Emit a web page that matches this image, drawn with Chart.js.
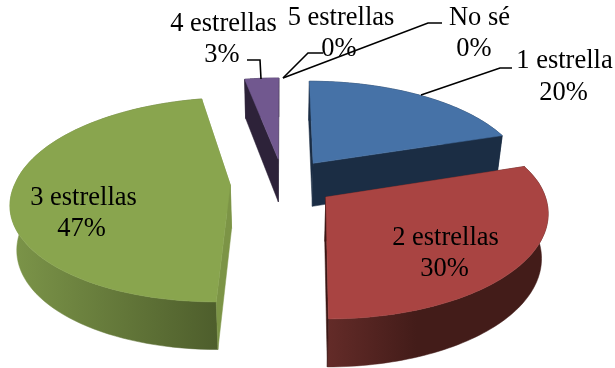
<!DOCTYPE html>
<html><head><meta charset="utf-8">
<style>html,body{margin:0;padding:0;background:#fff}canvas{display:block}</style>
<script src="https://cdn.jsdelivr.net/npm/chart.js@4/dist/chart.umd.min.js"></script>
</head><body>
<canvas id="c" width="615" height="368" style="width:615px;height:368px"></canvas>
<script>
const categories = ["1 estrella","2 estrellas","3 estrellas","4 estrellas","5 estrellas","No sé"];
const percentages = [20,30,47,3,0,0];
const topColors = ["#4672A7","#A94442","#89A54E","#71588F","#4BACC6","#F79646"];
const sideColors = [["#1B2D44","#1B2D44"],["#632B28","#431C19"],["#7C9549","#4E5E2C"],["#2D2239","#2D2239"],["#000","#000"],["#000","#000"]];
const radialColors = ["#1B2D44","#3A1614","#7C9446","#2D2239","#000","#000"];
const paintOrder = [3,0,2,1];
const labelPlacement = [
  {a:[564.5,68],b:[563.5,100]},{a:[445.5,245],b:[444.5,276]},{a:[83.5,205],b:[81.5,236]},
  {a:[223.5,31],b:[222,62]},{a:[341,25],b:[339,56]},{a:[479.5,25],b:[474,56]}];
const leaders = [
  [[512,68],[500,68],[421,95]],[],[],
  [[247,60],[260,60],[261,79]],
  [[323,53],[308,53],[283,78]],
  [[442,23],[428,23],[283,78]]];
const EXPLODE=0.245, SX=215, SY=99.3, PERSP=0.146, NEAR_SHEAR=5;

function proj(arc,u,w){const s=1/(1-PERSP*w);return [arc.x+SX*u*s-NEAR_SHEAR*Math.max(0,w), arc.y+SY*w*s];}
function bottom(arc,u,w){const p=proj(arc,u,w);return [arc.x+(p[0]-arc.x)*0.975,p[1]+43.7+3.8*w];}
function poly(ctx,pts,fill){ctx.beginPath();pts.forEach((p,i)=>i?ctx.lineTo(p[0],p[1]):ctx.moveTo(p[0],p[1]));ctx.closePath();ctx.fillStyle=fill;ctx.fill();ctx.strokeStyle=fill;ctx.lineWidth=0.5;ctx.stroke();}

const pie3d={id:'pie3d',
 beforeDatasetDraw(chart){
  const ctx=chart.ctx, arcs=chart.getDatasetMeta(0).data;
  paintOrder.forEach(i=>{
   const arc=arcs[i]; if(arc.endAngle-arc.startAngle<=0) return;
   const mid=(arc.startAngle+arc.endAngle)/2, du=Math.cos(mid)*EXPLODE, dw=Math.sin(mid)*EXPLODE;
   const rim=[],n=80;
   for(let k=0;k<=n;k++){const t=arc.startAngle+(arc.endAngle-arc.startAngle)*k/n;rim.push([du+Math.cos(t),dw+Math.sin(t)]);}
   const apex=[du,dw];
   const top=rim.map(p=>proj(arc,p[0],p[1])), low=rim.map(p=>bottom(arc,p[0],p[1]));
   const xs=top.map(p=>p[0]), g=ctx.createLinearGradient(Math.min(...xs),0,Math.max(...xs),0);
   const stops=sideColors[i];
   g.addColorStop(0,stops[0]);g.addColorStop(i===1?0.4:1,stops[1]);
   if(i===1) g.addColorStop(1,stops[1]);
   poly(ctx,top.concat(low.slice().reverse()),g);
   const edges=[rim[0],rim[n]].sort((a,b)=>a[1]-b[1]);
   edges.forEach(e=>poly(ctx,[proj(arc,apex[0],apex[1]),proj(arc,e[0],e[1]),bottom(arc,e[0],e[1]),bottom(arc,apex[0],apex[1])],radialColors[i]));
   poly(ctx,[proj(arc,apex[0],apex[1])].concat(top),topColors[i]);
  });
  return false;
 },
 afterDraw(chart){
  const ctx=chart.ctx;
  ctx.save();
  ctx.font='26.5px "Liberation Serif"';ctx.textAlign='center';ctx.textBaseline='alphabetic';ctx.fillStyle='#000';
  categories.forEach((c,i)=>{const l=labelPlacement[i];ctx.fillText(c,l.a[0],l.a[1]);ctx.fillText(percentages[i]+'%',l.b[0],l.b[1]);});
  ctx.strokeStyle='#000';ctx.lineWidth=1.6;
  leaders.forEach(pts=>{if(!pts.length)return;ctx.beginPath();pts.forEach((p,i)=>i?ctx.lineTo(p[0],p[1]):ctx.moveTo(p[0],p[1]));ctx.stroke();});
  ctx.restore();
 }};

new Chart(document.getElementById('c'),{
 type:'pie',
 data:{labels:categories,datasets:[{data:percentages,backgroundColor:topColors,borderWidth:0}]},
 options:{responsive:false,animation:false,layout:{padding:{right:49,bottom:3}},
  plugins:{legend:{display:false},tooltip:{enabled:false}}},
 plugins:[pie3d]
});
</script>
</body></html>
